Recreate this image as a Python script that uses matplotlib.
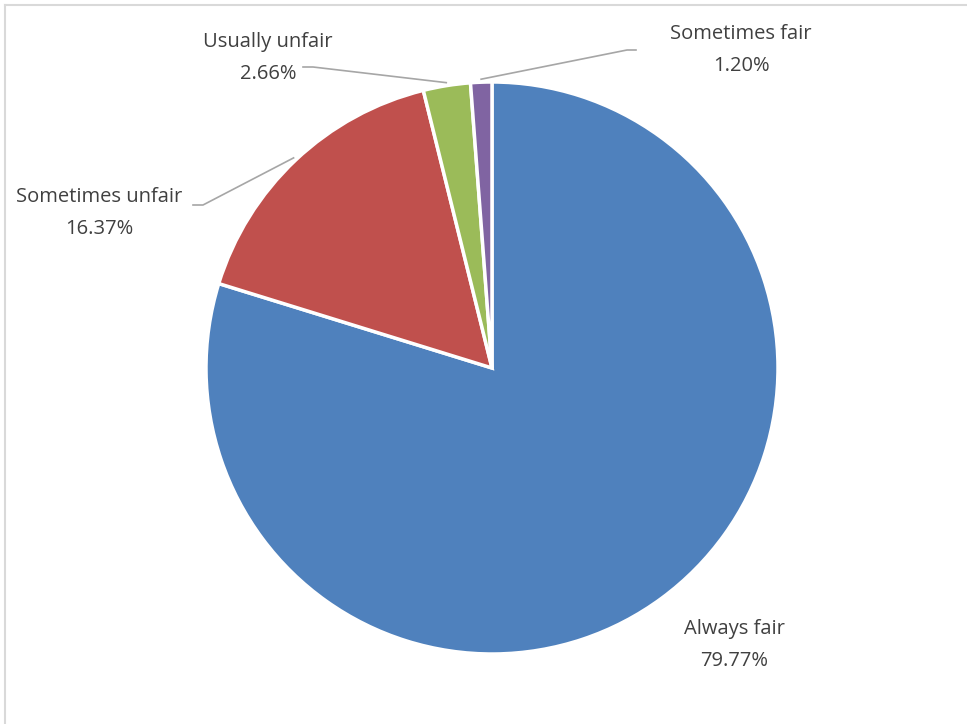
import numpy as np
import matplotlib.pyplot as plt
from matplotlib.lines import Line2D

# data
labels = ["Always fair", "Sometimes unfair", "Usually unfair", "Sometimes fair"]
values = [79.77, 16.37, 2.66, 1.20]
colors = ["#4f81bd", "#c0504d", "#9bbb59", "#8064a2"]

W, H = 967, 724
cx, cy, r = 492, H - 368, 286

# label placement (pixel coords, y from top) and leader elbows
label_pos = [(734, 645), (99, 213), (268, 58), (741, 50)]
elbow = [None, [(193, 205), (203, 205)], [(303, 67), (313, 67)], [(636, 50), (627, 50)]]

plt.rcParams['font.family'] = ['Open Sans', 'DejaVu Sans']

fig = plt.figure(figsize=(W / 100, H / 100), dpi=100)
ax = fig.add_axes([0, 0, 1, 1])

wedges, _ = ax.pie(values, colors=colors, startangle=90, counterclock=False,
                   center=(cx, cy), radius=r,
                   wedgeprops=dict(edgecolor='white', linewidth=2.5))
ax.set_xlim(0, W)
ax.set_ylim(0, H)
ax.set_aspect('equal')
ax.axis('off')

# border of the chart area
fig.add_artist(Line2D([5 / W, 5 / W], [0, 1 - 5 / H], color='#d9d9d9', lw=1.5, transform=fig.transFigure))
fig.add_artist(Line2D([5 / W, 1], [1 - 5 / H, 1 - 5 / H], color='#d9d9d9', lw=1.5, transform=fig.transFigure))

total = sum(values)
for i, w in enumerate(wedges):
    lx, ly = label_pos[i]
    ax.text(lx, H - ly, f"{labels[i]}\n{values[i] / total * 100:.2f}%", ha='center', va='center',
            fontsize=14.5, color='#404040', linespacing=1.75)
    if elbow[i] is not None:
        ang = np.deg2rad((w.theta1 + w.theta2) / 2)
        px = cx + (r + 3) * np.cos(ang)
        py = cy + (r + 3) * np.sin(ang)
        xs = [p[0] for p in elbow[i]] + [px]
        ys = [H - p[1] for p in elbow[i]] + [py]
        ax.plot(xs, ys, color='#a6a6a6', lw=1.2)

fig.savefig("out.png", dpi=100)
